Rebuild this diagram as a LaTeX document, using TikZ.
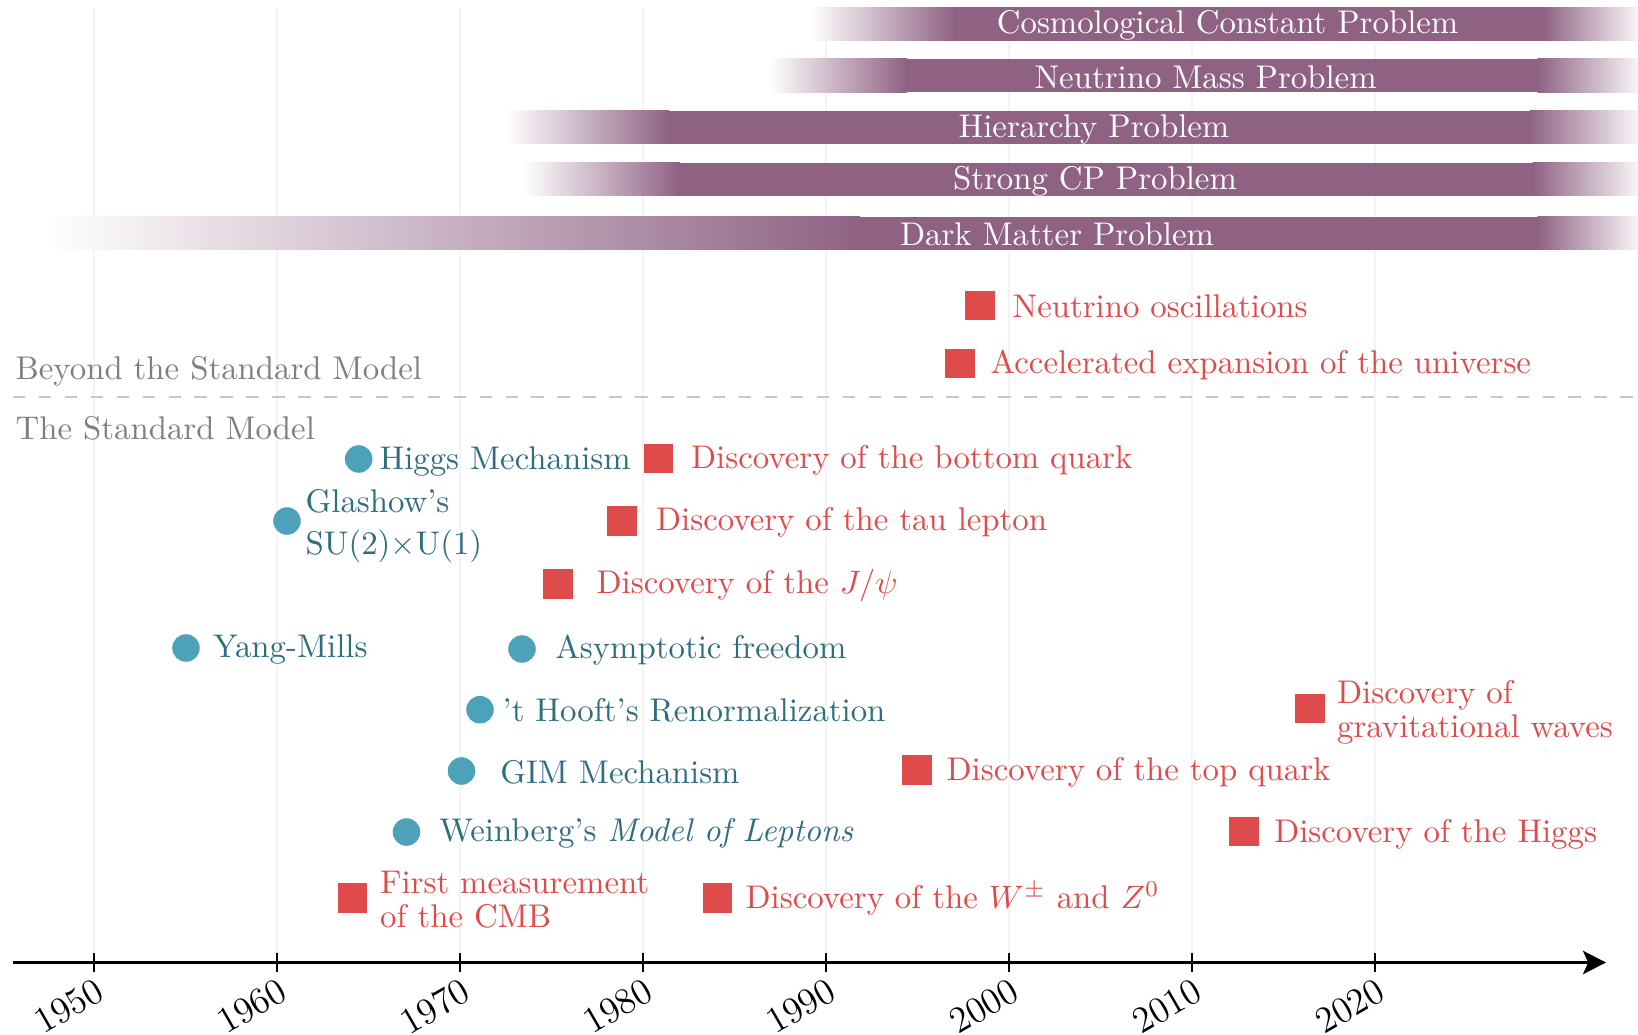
\documentclass[tikz,border=0pt]{standalone}
\usetikzlibrary{arrows.meta}
\definecolor{bsm}{HTML}{8F6284}
\definecolor{exred}{HTML}{DE4B4A}
\definecolor{thblue}{HTML}{4DA1B8}
\definecolor{thtext}{HTML}{2E6E7F}
\definecolor{gridc}{HTML}{F4F4F4}
\definecolor{dashc}{HTML}{C8C8C8}
\definecolor{labgrey}{HTML}{7F7F7F}
\begin{document}
\begin{tikzpicture}[x=0.3086pt,y=-0.3086pt,
  every node/.style={font=\fontsize{10.13pt}{12.2pt}\selectfont},
  gridline/.style={draw=gridc,line width=0.45pt},
  tickline/.style={draw=black,line width=0.6pt},
  axisline/.style={draw=black,line width=0.85pt,-{Stealth[length=7.1pt,width=7.2pt,inset=1.6pt]}},
  sepline/.style={draw=dashc,line width=0.7pt,dash pattern=on 3.85pt off 4.15pt},
  bartext/.style={text=white,inner sep=0pt,anchor=center},
  expt/.style={rectangle,fill=exred,minimum size=9.07pt,inner sep=0pt},
  theo/.style={circle,fill=thblue,minimum size=8.5pt,inner sep=0pt},
  exptext/.style={anchor=west,inner sep=0pt,text=exred,align=left,font=\fontsize{10.13pt}{10.5pt}\selectfont},
  theotext/.style={anchor=west,inner sep=0pt,text=thtext,align=left,font=\fontsize{10.13pt}{12.7pt}\selectfont},
  regionlab/.style={anchor=base west,inner sep=0pt,text=labgrey},
  yearlab/.style={anchor=center,inner sep=0pt,rotate=30,font=\fontsize{11.4pt}{13pt}\selectfont}
]
\useasboundingbox (0,0) rectangle (1638,1035);

% grid lines
\foreach \gx in {94,277,460,643,826,1009,1192,1375}{
  \draw[gridline] (\gx,8) -- (\gx,962);
}

% problem bars
% Cosmological constant
\shade[left color=white,right color=bsm] (811,7.3) rectangle (955,40.7);
\fill[bsm] (954.5,7.3) rectangle (1543,40.7);
\shade[left color=bsm,right color=bsm!6] (1542.5,7.3) rectangle (1638,40.7);
% Neutrino mass
\shade[left color=white,right color=bsm] (769,59) rectangle (907,92.5);
\fill[bsm] (906.5,59) rectangle (1538,92.5);
\shade[left color=bsm,right color=bsm!6] (1537.5,59) rectangle (1638,92.5);
% Hierarchy
\shade[left color=white,right color=bsm] (506,111) rectangle (669,144);
\fill[bsm] (668.5,111) rectangle (1530,144);
\shade[left color=bsm,right color=bsm!6] (1529.5,111) rectangle (1638,144);
% Strong CP
\shade[left color=white,right color=bsm] (523,163) rectangle (680,196);
\fill[bsm] (679.5,163) rectangle (1533,196);
\shade[left color=bsm,right color=bsm!6] (1532.5,163) rectangle (1638,196);
% Dark matter
\shade[left color=white,right color=bsm] (46,217) rectangle (860,250);
\fill[bsm] (859.5,217) rectangle (1538,250);
\shade[left color=bsm,right color=bsm!6] (1537.5,217) rectangle (1638,250);

\node[bartext] (ccp) at (1227.6,25.5) {Cosmological Constant Problem};
\node[bartext] (nmp) at (1205.6,77) {Neutrino Mass Problem};
\node[bartext] (hp)  at (1094,129) {Hierarchy Problem};
\node[bartext] (scp) at (1095,181) {Strong CP Problem};
\node[bartext] (dmp) at (1057,234.5) {Dark Matter Problem};

% separator
\coordinate (sepL) at (13,397.3);
\coordinate (sepR) at (1638,397.3);
\draw[sepline] (sepL) -- (sepR);
\node[regionlab] (bsmlab) at (15,379) {Beyond the Standard Model};
\node[regionlab] (smlab) at (15,439.5) {The Standard Model};

% experiments (red)
\node[expt] (nuosc) at (980,305.6) {};
\node[exptext] (nuosct) at (1012,306.6) {Neutrino oscillations};
\node[expt] (accel) at (960,363.5) {};
\node[exptext] (accelt) at (990,364.5) {Accelerated expansion of the universe};
\node[expt] (bq) at (658.5,458.7) {};
\node[exptext] (bqt) at (690.5,460.2) {Discovery of the bottom quark};
\node[expt] (tau) at (622,521) {};
\node[exptext] (taut) at (655.5,522) {Discovery of the tau lepton};
\node[expt] (jpsi) at (558,584) {};
\node[exptext] (jpsit) at (596,585) {Discovery of the $J/\psi$};
\node[expt] (gw) at (1310,708.7) {};
\node[exptext] (gwt) at (1336.5,712.7) {Discovery of\\gravitational waves};
\node[expt] (tq) at (917,770) {};
\node[exptext] (tqt) at (946,772) {Discovery of the top quark};
\node[expt] (hig) at (1244,831.6) {};
\node[exptext] (higt) at (1273.6,834) {Discovery of the Higgs};
\node[expt] (cmb) at (352.7,898) {};
\node[exptext] (cmbt) at (379.5,900) {First measurement\\of the CMB};
\node[expt] (wz) at (717.4,898) {};
\node[exptext] (wzt) at (745,898.5) {Discovery of the $W^\pm$ and $Z^0$};

% theory (blue)
\node[theo] (hm) at (358.7,459) {};
\node[theotext] (hmt) at (379,461) {Higgs Mechanism};
\node[theo] (gl) at (287,521) {};
\node[theotext] (glt) at (305,526) {Glashow's\\SU(2)$\times$U(1)};
\node[theo] (ym) at (186,648) {};
\node[theotext] (ymt) at (212.5,649) {Yang-Mills};
\node[theo] (af) at (522,649) {};
\node[theotext] (aft) at (554.7,650) {Asymptotic freedom};
\node[theo] (th) at (480,709.7) {};
\node[theotext] (tht) at (502,710) {'t Hooft's Renormalization};
\node[theo] (gim) at (461.5,771) {};
\node[theotext] (gimt) at (499.6,772.5) {GIM Mechanism};
\node[theo] (wb) at (406.5,832) {};
\node[theotext] (wbt) at (438.7,833.5) {Weinberg's \textit{Model of Leptons}};

% time axis
\coordinate (axL) at (13,962.5);
\coordinate (axR) at (1606,962.5);
\draw[axisline] (axL) -- (axR);
\foreach \gx/\yr in {94/1950,277/1960,460/1970,643/1980,826/1990,1009/2000,1192/2010,1375/2020}{
  \draw[tickline] (\gx,953) -- (\gx,972);
  \node[yearlab] (yr\yr) at (\gx-25,1006.5) {\yr};
}
\end{tikzpicture}
\end{document}
